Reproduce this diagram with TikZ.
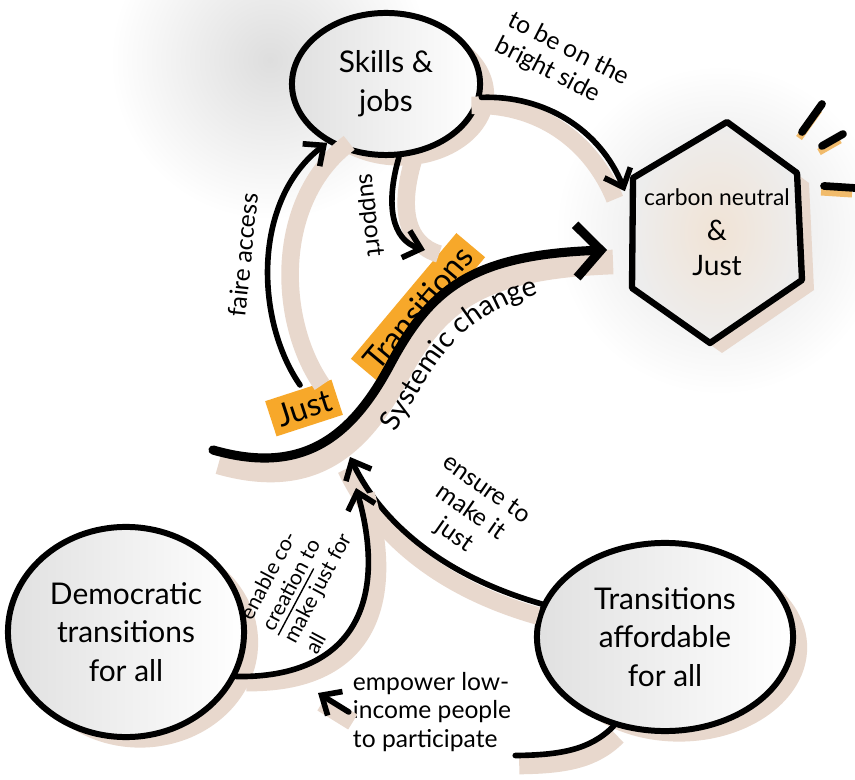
\documentclass[tikz,border=0pt]{standalone}
\usepackage{fontspec}
\setmainfont{Lato}
\usetikzlibrary{arrows.meta,shapes.geometric,shadows,calc,decorations.text}

\definecolor{sketchtan}{RGB}{232,216,205}
\definecolor{marker}{RGB}{247,168,42}

\tikzset{
  bubble/.style={ellipse, draw, line width=1.7pt, inner sep=0pt, left color=black!12, right color=white,
    align=center, font=\fontsize{8.5}{11}\selectfont,
    drop shadow={shadow xshift=4pt, shadow yshift=-3pt, fill=sketchtan, opacity=1}},
  link/.style={line width=1.6pt, line cap=round, -{Straight Barb[length=4.5pt,width=8pt]},
    preaction={draw=sketchtan, line width=5pt, line cap=butt, -, transform canvas={shift={#1}}}},
  link/.default={(7,7)},
  biglink/.style={line width=2.6pt, line cap=round, -{Straight Barb[length=7pt,width=15pt]},
    preaction={draw=sketchtan, line width=7pt, line cap=butt, -, transform canvas={shift={(6,12)}}}},
  note/.style={font=\fontsize{7}{8}\selectfont, align=left, inner sep=1pt},
  marked/.style={fill=marker, font=\fontsize{9}{11}\selectfont, inner sep=2pt},
  spark/.style={line width=2.2pt, line cap=round,
    preaction={draw=marker!60!sketchtan, line width=2pt, transform canvas={shift={(-3,6)}}}}
}

\begin{document}
\begin{tikzpicture}[x=0.01cm, y=-0.01cm]
\useasboundingbox[fill=white] (0,0) rectangle (855,780);
% soft grey glow
\shade[inner color=black!13, outer color=white] (270,60) circle[radius=160];
\shade[inner color=black!12, outer color=white] (720,230) circle[radius=165];

\node[bubble, minimum width=1.88cm, minimum height=1.42cm] (skills) at (386,84) {Skills \&\\jobs};
\node[bubble, minimum width=2.36cm, minimum height=2.1cm] (demo) at (126,632) {Democratic\\transitions\\for all};
\node[bubble, minimum width=2.56cm, minimum height=1.88cm] (afford) at (665,637) {Transitions\\affordable\\for all};

% goal hexagon
\coordinate (hexC) at (717,232);
\path (hexC) +(10,-110) coordinate (hexT) +(80,-59) coordinate (hexUR) +(85,48) coordinate (hexLR)
  +(-7,111) coordinate (hexB) +(-85,56) coordinate (hexLL) +(-84,-54) coordinate (hexUL);
\fill[sketchtan, transform canvas={shift={(12,10)}}] (hexT) -- (hexUR) -- (hexLR) -- (hexB) -- (hexLL) -- (hexUL) -- cycle;
\draw[line width=1.8pt, line join=round, inner color=brown!22!white, outer color=black!7]
  (hexT) -- (hexUR) -- (hexLR) -- (hexB) -- (hexLL) -- (hexUL) -- cycle;
\node[align=center, font=\fontsize{6.5}{10}\selectfont] (goal) at (hexC) {carbon neutral\\{\fontsize{8}{10}\selectfont\&}\\{\fontsize{8}{10}\selectfont Just}};

\draw[spark] (802,132) -- (822,104);
\draw[spark] (822,146) -- (843,134);
\draw[spark] (824,186) -- (855,188);

% just transitions
\node[marked, rotate=18] (just) at (304,408) {Just};
\node[marked, rotate=50] (trans) at (418,308) {Transitions};
\coordinate (sysStart) at (213,450);
\coordinate (sysEnd) at (607,250);
\draw[biglink] (sysStart) .. controls (300,475) and (350,440) .. (390,365)
  .. controls (430,290) and (470,255) .. (sysEnd);
\path[decorate, decoration={text along path, text align=center,
  text={|\fontsize{8}{10}\selectfont|Systemic change}}]
  (385,452) .. controls (415,400) and (440,350) .. (470,328) .. controls (495,308) and (525,296) .. (560,290);

\draw[link={(-10,8)}] (skills.-8) .. controls (545,95) and (600,130) .. ($(hexUL)!0.12!(hexLL)+(-8,0)$);
\node[note, rotate=-27] (brightLbl) at (562,62) {to be on the\\bright side};

\coordinate (accessStart) at (300,385);
\draw[link={(22,0)}] (accessStart) .. controls (255,320) and (252,200) .. (skills.-135);
\node[note, rotate=84] (accessLbl) at (243,255) {faire access};

\coordinate (supportEnd) at (425,250);
\draw[link={(14,4)}] (skills.-80) .. controls (385,205) and (392,240) .. (supportEnd);
\node[note, rotate=-84] (supportLbl) at (370,215) {support};

\coordinate (ensureEnd) at (350,457);
\draw[link={(-4,12)}] (afford.165) .. controls (440,575) and (380,520) .. (ensureEnd);
\node[note, rotate=-35, align=center] (ensureLbl) at (470,513) {ensure to\\make it\\just};

\coordinate (enableEnd) at (356,488);
\draw[link={(10,6)}] (demo.-22) .. controls (355,678) and (388,600) .. (enableEnd);
\node[note, rotate=62, font=\fontsize{6}{7}\selectfont] (enableLbl) at (306,582) {enable co-\\\underline{creation} to\\make just for\\all};

\node[note] (empower) at (432,712) {empower low-\\income people\\to participate};
\coordinate (empowerEnd) at (318,693);
\draw[link={(4,10)}] (empower.west) -- (empowerEnd);
\draw[link={(4,10)}, -] (afford.-120) .. controls (590,750) and (560,755) .. (empower.south east);
\end{tikzpicture}
\end{document}
